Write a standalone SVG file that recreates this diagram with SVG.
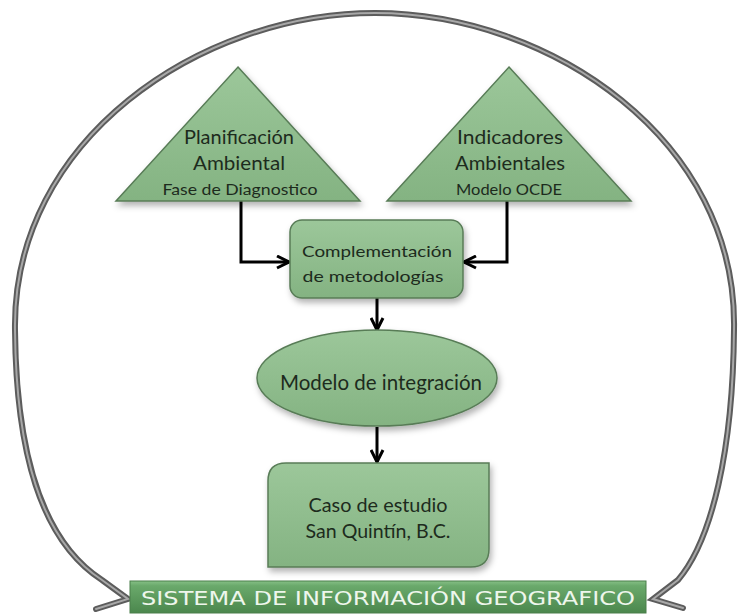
<svg xmlns="http://www.w3.org/2000/svg" width="738" height="614" viewBox="0 0 738 614">
<defs>
<linearGradient id="g" x1="0" y1="0" x2="0" y2="1">
<stop offset="0" stop-color="#9cc79a"/>
<stop offset="1" stop-color="#84b382"/>
</linearGradient>
<linearGradient id="bar" x1="0" y1="0" x2="0" y2="1">
<stop offset="0" stop-color="#86c086"/>
<stop offset="0.15" stop-color="#6aa96b"/>
<stop offset="1" stop-color="#4b874d"/>
</linearGradient>
<filter id="sh" x="-20%" y="-20%" width="140%" height="150%">
<feDropShadow dx="2" dy="4" stdDeviation="3" flood-color="#000" flood-opacity="0.3"/>
</filter>
<marker id="ah" viewBox="0 0 10 10" refX="9" refY="5" markerWidth="5" markerHeight="5" markerUnits="strokeWidth" orient="auto">
<path d="M1,1 L9,5 L1,9" fill="none" stroke="#000" stroke-width="2" stroke-linejoin="miter"/>
</marker>
<style>
.shape{fill:url(#g);stroke:#587c57;stroke-width:1.5;filter:url(#sh)}
.t{font-family:Lato,"Open Sans","Liberation Sans",sans-serif;fill:#1d2b1d;text-anchor:middle}
.arcO{fill:none;stroke:#5c5c5c;stroke-width:6;stroke-linecap:round;stroke-linejoin:miter}
.arcI{fill:none;stroke:#a8a8a8;stroke-width:2;stroke-linecap:round;stroke-linejoin:miter}
.c{fill:none;stroke:#000;stroke-width:3;marker-end:url(#ah)}
</style>
</defs>
<rect width="738" height="614" fill="#fff"/>
<g id="arcs">
<path class="arcO" d="M96,609 L128,599 L102,580 C40,540 16,450 15,330 C12,140 200,13 375,13 C550,13 738,140 734,330 C733,450 712,540 678,580 L653,599 L683,608"/>
<path class="arcI" d="M96,609 L128,599 L102,580 C40,540 16,450 15,330 C12,140 200,13 375,13 C550,13 738,140 734,330 C733,450 712,540 678,580 L653,599 L683,608"/>
</g>
<g id="connectors">
<path class="c" d="M241,201 V262 H289"/>
<path class="c" d="M507,201 V262 H464"/>
<path class="c" d="M377,298 V330"/>
<path class="c" d="M377,427 V462"/>
</g>
<g id="planificacion">
<polygon class="shape" points="238,67 360,201 116,201"/>
<text class="t" x="239" y="144" font-size="20" textLength="110" lengthAdjust="spacingAndGlyphs">Planificación</text>
<text class="t" x="239" y="170" font-size="20" textLength="92" lengthAdjust="spacingAndGlyphs">Ambiental</text>
<text class="t" x="240" y="195" font-size="16" textLength="155" lengthAdjust="spacingAndGlyphs">Fase de Diagnostico</text>
</g>
<g id="indicadores">
<polygon class="shape" points="509,67 631,201 387,201"/>
<text class="t" x="510" y="144" font-size="20" textLength="106" lengthAdjust="spacingAndGlyphs">Indicadores</text>
<text class="t" x="510" y="170" font-size="20" textLength="110" lengthAdjust="spacingAndGlyphs">Ambientales</text>
<text class="t" x="509" y="195" font-size="16" textLength="106" lengthAdjust="spacingAndGlyphs">Modelo OCDE</text>
</g>
<g id="complementacion">
<rect class="shape" x="290" y="220" width="173" height="78" rx="12"/>
<text class="t" x="377" y="257" font-size="16" textLength="150" lengthAdjust="spacingAndGlyphs">Complementación</text>
<text class="t" x="373" y="282" font-size="16" textLength="141" lengthAdjust="spacingAndGlyphs">de metodologías</text>
</g>
<g id="modelo">
<ellipse class="shape" cx="377" cy="378" rx="120" ry="48"/>
<text class="t" x="381" y="390" font-size="21" textLength="202" lengthAdjust="spacingAndGlyphs">Modelo de integración</text>
</g>
<g id="caso">
<path class="shape" d="M286,463 H489 V549 Q489,567 471,567 H268 V481 Q268,463 286,463 Z"/>
<text class="t" x="378" y="512" font-size="19" textLength="139" lengthAdjust="spacingAndGlyphs">Caso de estudio</text>
<text class="t" x="378" y="538" font-size="19" textLength="145" lengthAdjust="spacingAndGlyphs">San Quintín, B.C.</text>
</g>
<g id="sig">
<rect x="130" y="581" width="516" height="32" fill="url(#bar)" stroke="#4a7f4b" stroke-width="1"/>
<text x="388" y="605" font-family="'DejaVu Sans','Liberation Sans',sans-serif" font-size="20" fill="#eef6ec" text-anchor="middle" textLength="494" lengthAdjust="spacingAndGlyphs">SISTEMA DE INFORMACIÓN GEOGRAFICO</text>
</g>
</svg>
